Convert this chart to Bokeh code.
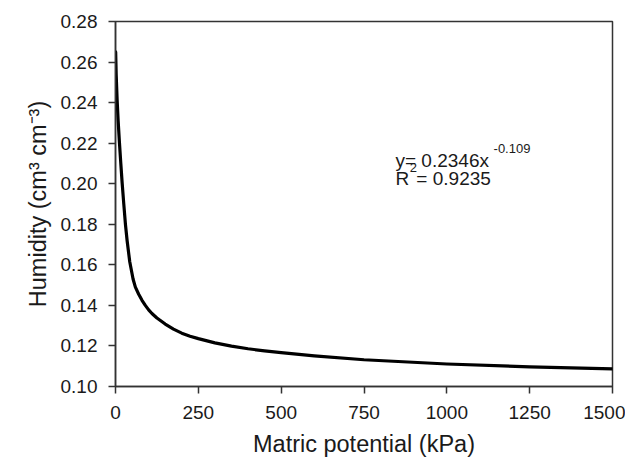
from bokeh.plotting import figure
from bokeh.models import Range1d, Label, FixedTicker, CustomJSTickFormatter
from bokeh.embed import file_html
from bokeh.resources import INLINE

# Data
matric_kpa = [0.5, 2, 5, 8, 12, 16, 20, 25, 30, 35, 43, 53, 60, 70, 80, 90, 100,
              110, 125, 150, 175, 200, 225, 250, 300, 350, 400, 450, 500, 600,
              750, 1000, 1250, 1500]
humidity = [0.265, 0.254, 0.241, 0.231, 0.220, 0.210, 0.2005, 0.190, 0.180, 0.172,
            0.1615, 0.153, 0.149, 0.1455, 0.1425, 0.140, 0.1378, 0.136, 0.1338,
            0.1308, 0.1283, 0.1263, 0.1248, 0.1236, 0.1215, 0.1199, 0.1186,
            0.1176, 0.1167, 0.1151, 0.1132, 0.1111, 0.1097, 0.1087]
x_ticks = [0, 250, 500, 750, 1000, 1250, 1500]
y_ticks = [0.10, 0.12, 0.14, 0.16, 0.18, 0.20, 0.22, 0.24, 0.26, 0.28]

FONT = "Liberation Sans"
AX = "#333333"
TXT = "#1a1a1a"

p = figure(width=625, height=459, output_backend="svg", toolbar_location=None,
           x_range=Range1d(0, 1500), y_range=Range1d(0.10, 0.28),
           min_border_left=115, min_border_right=13, min_border_top=21,
           min_border_bottom=66)
p.grid.visible = False
p.outline_line_color = AX
p.outline_line_width = 1.5

p.line(matric_kpa, humidity, line_color="black", line_width=3.2,
       line_join="round", line_cap="round")

for ax in (p.xaxis[0], p.yaxis[0]):
    ax.axis_line_color = AX
    ax.axis_line_width = 1.5
    ax.major_tick_line_color = AX
    ax.major_tick_line_width = 1.5
    ax.major_tick_out = 7
    ax.major_tick_in = 0
    ax.minor_tick_line_color = None
    ax.major_label_text_font = FONT
    ax.major_label_text_font_size = "19px"
    ax.major_label_text_color = TXT
    ax.axis_label_text_font = FONT
    ax.axis_label_text_font_size = "23.5px"
    ax.axis_label_text_font_style = "normal"
    ax.axis_label_text_color = TXT

p.xaxis.ticker = FixedTicker(ticks=x_ticks)
p.yaxis.ticker = FixedTicker(ticks=y_ticks)
p.yaxis.formatter = CustomJSTickFormatter(code="return tick.toFixed(2);")
p.xaxis.major_label_standoff = 12
p.yaxis.major_label_standoff = 11
p.xaxis.axis_label = "Matric potential (kPa)"
p.yaxis.axis_label = "Humidity (cm³ cm⁻³)"
p.xaxis.axis_label_standoff = 9
p.yaxis.axis_label_standoff = 7

TS = "19px"
SS = "13px"
common = dict(text_font=FONT, text_color=TXT, text_baseline="alphabetic")
p.add_layout(Label(x=845, y=0.2113, text="y= 0.2346x", text_font_size=TS, **common))
p.add_layout(Label(x=1141, y=0.2176, text="-0.109", text_font_size=SS, **common))
p.add_layout(Label(x=845, y=0.2028, text="R", text_font_size=TS, **common))
p.add_layout(Label(x=888, y=0.2082, text="2", text_font_size=SS, **common))
p.add_layout(Label(x=908, y=0.2028, text="= 0.9235", text_font_size=TS, **common))

open("out.html", "w").write(file_html(p, INLINE))
